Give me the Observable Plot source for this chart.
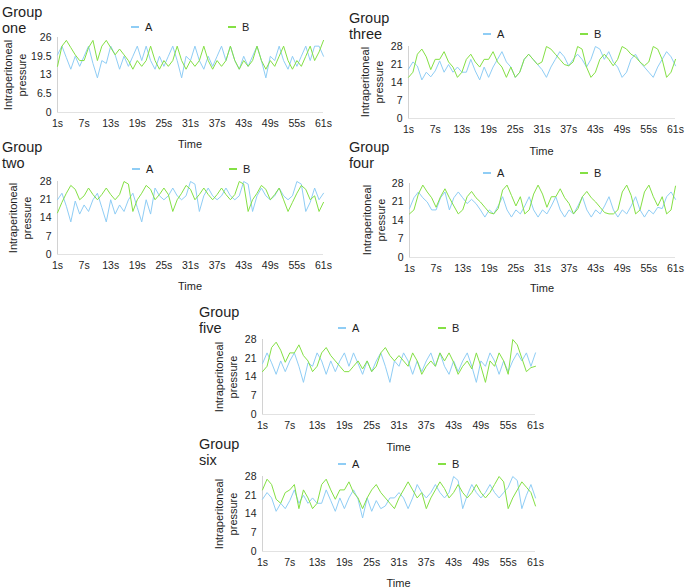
<!DOCTYPE html>
<html><head><meta charset="utf-8">
<script src="https://cdn.jsdelivr.net/npm/d3@7"></script>
<script src="https://cdn.jsdelivr.net/npm/@observablehq/plot@0.6"></script>
<style>
body{margin:0;background:#fff;font-family:"Liberation Sans",Arial,Helvetica,sans-serif;}
#root{position:relative;width:685px;height:588px;overflow:hidden;background:#fff;}
.t{position:absolute;color:#1e1e1e;white-space:nowrap;}
.title{font-size:14.5px;line-height:16px;}
.leg{font-size:11px;line-height:12px;transform:translateY(-50%);}
.leg span{display:inline-block;width:8px;height:1.4px;vertical-align:middle;margin-right:6px;position:relative;top:-1px;}
.ylab{font-size:11px;line-height:14px;text-align:center;transform:translate(-50%,-50%) rotate(-90deg);}
.xlab{font-size:11px;line-height:12px;transform:translate(-50%,-50%);}
</style>
</head><body><div id="root"></div>
<script>
// ---- data ----
const seriesNames = ["A", "B"];
const xTicks = [1, 7, 13, 19, 25, 31, 37, 43, 49, 55, 61];
const xTickLabels = ["1s","7s","13s","19s","25s","31s","37s","43s","49s","55s","61s"];
const yTicksOne = [0, 6.5, 13, 19.5, 26];
const yTicksOther = [0, 7, 14, 21, 28];
const yAxisTitle = ["Intraperitoneal", "pressure"];
const xAxisTitle = "Time";
const groupTitles = [["Group","one"],["Group","two"],["Group","three"],["Group","four"],["Group","five"],["Group","six"]];

const groupOneA = [20,23,19,15,19.5,16,19.5,23,17,12, 18,17,23,20,15,19.5,16,19.5,23,18, 23,18,15,19.5,16,19.5,23,18,12,19.5, 18,23,18,15,19.5,16,19.5,23,18,23, 18,15,19.5,16,19.5,23,18,12,19.5,18, 23,18,15,19.5,16,19.5,23,18,23,23,19.5];
const groupOneB = [16,23,25,22.5,20,18,18,22.5,25,18, 23,25,22.5,20,22,20,18,15,18,16, 18,23,18,15,18,16,18,23,18,15, 18,16,18,23,18,15,18,16,18,23, 18,15,18,16,18,23,18,15,18,16, 19.5,23,18,15,18,16,19.5,23,18,21,25];
const groupTwoA = [21,23.5,18.5,12.5,20.5,15.5,19,16.5,21,23.5, 18,12.5,21,15.5,19,16.5,21,23.5,18,12.5, 21,15.5,25.5,22.5,21,22.5,25.5,22.5,21,22.5, 28,27,16.5,22.5,25.5,22.5,21,22.5,25.5,22.5, 21,22.5,28,27,16.5,22.5,25.5,22.5,21,22.5, 25.5,22.5,21,22.5,28,27,16.5,20,25.5,21,23.5];
const groupTwoB = [16,20,23.5,26.5,25,21,22.5,25.5,23,21, 23,25.5,23,21,23,28,27,16.5,21,23.5, 26.5,25,21,23,25.5,23,16.5,21,23.5,26.5, 25,21,23,25.5,23,21,23,25.5,23,21, 23,28,27,16.5,21,23.5,26.5,25,21,23, 25.5,21,16.5,20,23.5,26.5,25,21,22.5,16.5,20];
const groupThreeA = [19.2,22,20.4,15,18,16.2,18.5,22.4,18,21, 18,20,18,18,23,18.5,15,20,16,20, 23,26,22,20,16,18,23,25,23,21, 19,16,20,23,26,24,20.5,23,25,23, 20,23,28,27,23,26,22,20,16,18, 23,25,22,20,18,16,20,23,26,24,20.5];
const groupThreeB = [16,18,25,27,24,19,23,23,26,22, 20,16,18,23,25,22,20,23,23,26, 22,20,16,20,16,18,23,25,23,21, 22,28,27,25,23,21,20.5,22,28,27, 20,16,18,23,25,23,20.5,23,28,27, 25,24,22,20.5,22,28,27,23,16,18,23];
const groupFourA = [18.5,22.6,24.8,22.6,21,18,18,22.6,24.8,18, 22.6,24.8,22.6,20.4,22,20.4,18,15.3,18,16.5, 19.5,23,18,15.3,18,16.5,19.5,23,18,15.3, 18,16.5,19.5,23,18,15.3,18,16.5,19.5,23, 18,15.3,18,16.5,19.5,23,18,15.3,18,16.5, 19.5,23,18,15.3,18,16.5,19,18.5,23,24.8,22];
const groupFourB = [16.5,18,24,27.4,24.8,22.6,19,23,26,22.6, 19.5,16.5,18,23,25,22.6,21,19,17,16.5, 18.5,25.5,27.4,23.5,19.5,23,16.5,18,24,27.4, 24,19,23,23,26,22.6,20.4,16.5,18.5,23, 25,22.6,21,19,17,16.5,16.5,18,24.8,27.4, 23.5,16.5,18,24.8,27.4,23,19.5,23,16.5,18,27];
const groupFiveA = [19,23,19.3,15,20,16,20,23,18,12, 19.3,18,23,20,15,20,16,20,23,18, 23,19,15,20,16,20,23,18,12,20, 18,23,20,15,20,16,20,23,18,23, 18,15,20,16,20,23,18,12,20,18, 23,20,15,20,16,20,23,20,23,18,23];
const groupFiveB = [16,18,25,27,24,19.5,23,23,26,22, 20,16,18,23,25,22,20,18,16,16, 18,20,17,20,16,18,23,25,22,20, 22,20,18,23,20,15,18,20,18,23, 20,23,19.5,15,18,20,17,23,18,12, 20,18,23,20,15,28,26,21,16,17.5,18];
const groupSixA = [19.5,22,20,15,18,16,19,23,18,21, 18,20,18,18,23,19,15,20,16,20, 23,19.5,12.5,20,15,19,16,17,20,20, 22,20,16,20,25,22,20,22,25,22, 20,22,28,26.5,16,21,25,22,20,22, 25,22,20,22,24,28,26.5,16,21,25,20];
const groupSixB = [23,27,25,19.5,18,22,23,25,16,23, 20,16,18,25,27,23,19.5,23,23,26, 22,20,16,20,23,25,22,20,18,16, 20,23,26,23,20,22,16,20,23,26, 23.5,20,22,25,22,20,22,25,22,20, 22,25,28,26,16,20,23,26,24,22,17];

const colorA = "#8fcdf5";
const colorB = "#84e044";

// ---- layout (pixel positions of each panel) ----
const panels = [
  {title:groupTitles[0], a:groupOneA, b:groupOneB, yMax:26, yTicks:yTicksOne, L:57, R:323, T:37, B:112, tx:2, ty:4, ly:27, la:131, lb:228, yl:15, xl:144},
  {title:groupTitles[1], a:groupTwoA, b:groupTwoB, yMax:28, yTicks:yTicksOther, L:57, R:323, T:181, B:254, tx:2, ty:139, ly:169, la:132, lb:229, yl:19.5, xl:286},
  {title:groupTitles[2], a:groupThreeA, b:groupThreeB, yMax:28, yTicks:yTicksOther, L:408, R:675, T:46, B:118, tx:349, ty:10, ly:34, la:483, lb:580, yl:371.5, xl:151},
  {title:groupTitles[3], a:groupFourA, b:groupFourB, yMax:28, yTicks:yTicksOther, L:409, R:675, T:183, B:257, tx:349, ty:139, ly:173, la:483, lb:580, yl:373.5, xl:288},
  {title:groupTitles[4], a:groupFiveA, b:groupFiveB, yMax:28, yTicks:yTicksOther, L:262, R:535, T:339, B:414, tx:199, ty:304, ly:328, la:338, lb:438, yl:225.5, xl:447},
  {title:groupTitles[5], a:groupSixA, b:groupSixB, yMax:28, yTicks:yTicksOther, L:262, R:535, T:476, B:551, tx:199, ty:436, ly:464, la:338, lb:438, yl:225.5, xl:583}
];

const root = document.getElementById("root");
function addDiv(cls, html, left, top) {
  const d = document.createElement("div");
  d.className = "t " + cls;
  d.innerHTML = html;
  d.style.left = left + "px";
  d.style.top = top + "px";
  root.appendChild(d);
  return d;
}

panels.forEach(p => {
  const mL = 40, mR = 20, mT = 6, mB = 22;
  const data = [
    ...p.a.map((v, i) => ({t: i + 1, v, s: seriesNames[0]})),
    ...p.b.map((v, i) => ({t: i + 1, v, s: seriesNames[1]}))
  ];
  const chart = Plot.plot({
    width: (p.R - p.L) + mL + mR,
    height: (p.B - p.T) + mT + mB,
    marginLeft: mL, marginRight: mR, marginTop: mT, marginBottom: mB,
    x: {domain: [1, 61]},
    y: {domain: [0, p.yMax]},
    color: {domain: seriesNames, range: [colorA, colorB]},
    style: {fontFamily: "'Liberation Sans', Arial, sans-serif", fontSize: "10.5px", color: "#1e1e1e", background: "transparent", overflow: "visible"},
    marks: [
      Plot.ruleY([0], {stroke: "#e2e2e2"}),
      Plot.ruleX([1], {stroke: "#d2d2d2"}),
      Plot.axisX({ticks: xTicks, tickFormat: d => xTickLabels[xTicks.indexOf(d)], tickSize: 0, tickPadding: 7, label: null}),
      Plot.axisY({ticks: p.yTicks, tickFormat: d => String(d), tickSize: 0, tickPadding: 6, label: null}),
      Plot.line(data, {x: "t", y: "v", stroke: "s", strokeWidth: 1})
    ]
  });
  chart.style.position = "absolute";
  chart.style.left = (p.L - mL) + "px";
  chart.style.top = (p.T - mT) + "px";
  root.appendChild(chart);

  addDiv("title", p.title[0] + "<br>" + p.title[1], p.tx, p.ty);
  addDiv("leg", `<span style="background:${colorA}"></span>${seriesNames[0]}`, p.la, p.ly);
  addDiv("leg", `<span style="background:${colorB}"></span>${seriesNames[1]}`, p.lb, p.ly);
  addDiv("ylab", yAxisTitle[0] + "<br>" + yAxisTitle[1], p.yl, (p.T + p.B) / 2);
  addDiv("xlab", xAxisTitle, (p.L + p.R) / 2, p.xl);
});
</script>
</body></html>
